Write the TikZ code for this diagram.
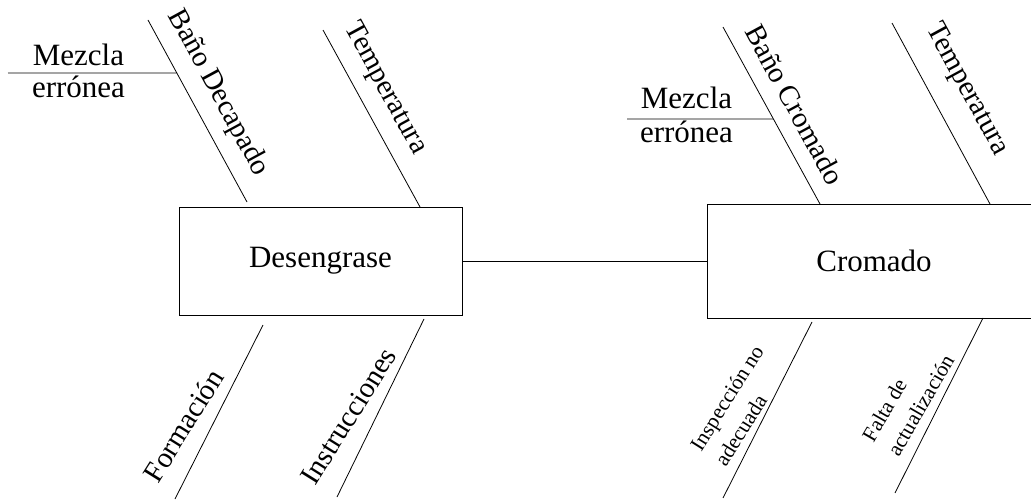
\documentclass[tikz,border=0pt]{standalone}
\usepackage{fontspec}
\setmainfont{Liberation Serif}
\usetikzlibrary{calc}
\begin{document}
\begin{tikzpicture}[x=1pt,y=-1pt,
  bone/.style={line width=0.8pt},
  procbox/.style={draw, line width=1pt, inner sep=0pt, font=\fontsize{31}{36}\selectfont},
  biglbl/.style={align=center, inner sep=0pt},
  rotlbl/.style={font=\fontsize{29}{33}\selectfont, inner sep=0pt},
  smalllbl/.style={font=\fontsize{21.3}{29}\selectfont, align=left, inner sep=0pt}]
\useasboundingbox (0,0) rectangle (1031,500);

% process boxes and spine
\node[procbox, minimum width=283pt, minimum height=108pt] (des) at (320.5,261) {Desengrase};
\node[procbox, minimum width=334pt, minimum height=114pt] (cro) at (874,261) {Cromado};
\draw[bone] (des.east) -- (cro.west);

% ---- Desengrase: upper bones
\coordinate (bdA) at (148,20);
\coordinate (bdB) at (247,202);
\draw[bone] (bdA) -- (bdB);
\coordinate (mzLA) at (8,73);
\draw[bone] (mzLA) -- ($(bdA)!0.291!(bdB)$);
\node[biglbl, font=\fontsize{31}{32}\selectfont] (mzL) at (78.5,70.4) {Mezcla\\errónea};
\node[rotlbl, rotate=-61.5] (bdL) at (218,93) {Baño Decapado};

\coordinate (tpA) at (323,30);
\coordinate (tpB) at (420,207);
\draw[bone] (tpA) -- (tpB);
\node[rotlbl, rotate=-61.5] (tpL) at (385,88.5) {Temperatura};

% ---- Desengrase: lower bones
\coordinate (fmA) at (263,325);
\coordinate (fmB) at (175,499);
\draw[bone] (fmA) -- (fmB);
\node[rotlbl, rotate=58] (fmL) at (183.5,425.5) {Formación};

\coordinate (inA) at (424,319);
\coordinate (inB) at (337,497);
\draw[bone] (inA) -- (inB);
\node[rotlbl, rotate=58] (inL) at (348.5,416) {Instrucciones};

% ---- Cromado: upper bones
\coordinate (bcA) at (723,27);
\coordinate (bcB) at (820,204);
\draw[bone] (bcA) -- (bcB);
\coordinate (mzRA) at (627,119);
\draw[bone] (mzRA) -- ($(bcA)!0.52!(bcB)$);
\node[biglbl, font=\fontsize{31}{34}\selectfont] (mzR) at (686.5,114.4) {Mezcla\\errónea};
\node[rotlbl, rotate=-61.5] (bcL) at (795,104.5) {Baño Cromado};

\coordinate (trA) at (892,23);
\coordinate (trB) at (990,204);
\draw[bone] (trA) -- (trB);
\node[rotlbl, rotate=-61.5] (trL) at (966.5,89.5) {Temperatura};

% ---- Cromado: lower bones
\coordinate (ipA) at (812,322);
\coordinate (ipB) at (723,498);
\draw[bone] (ipA) -- (ipB);
\node[smalllbl, rotate=58] (ipL) at (739,405.5) {Inspección no\\adecuada};

\coordinate (faA) at (983,318);
\coordinate (faB) at (895,493);
\draw[bone] (faA) -- (faB);
\node[smalllbl, rotate=60] (faL) at (908,398) {Falta de\\actualización};
\end{tikzpicture}
\end{document}
